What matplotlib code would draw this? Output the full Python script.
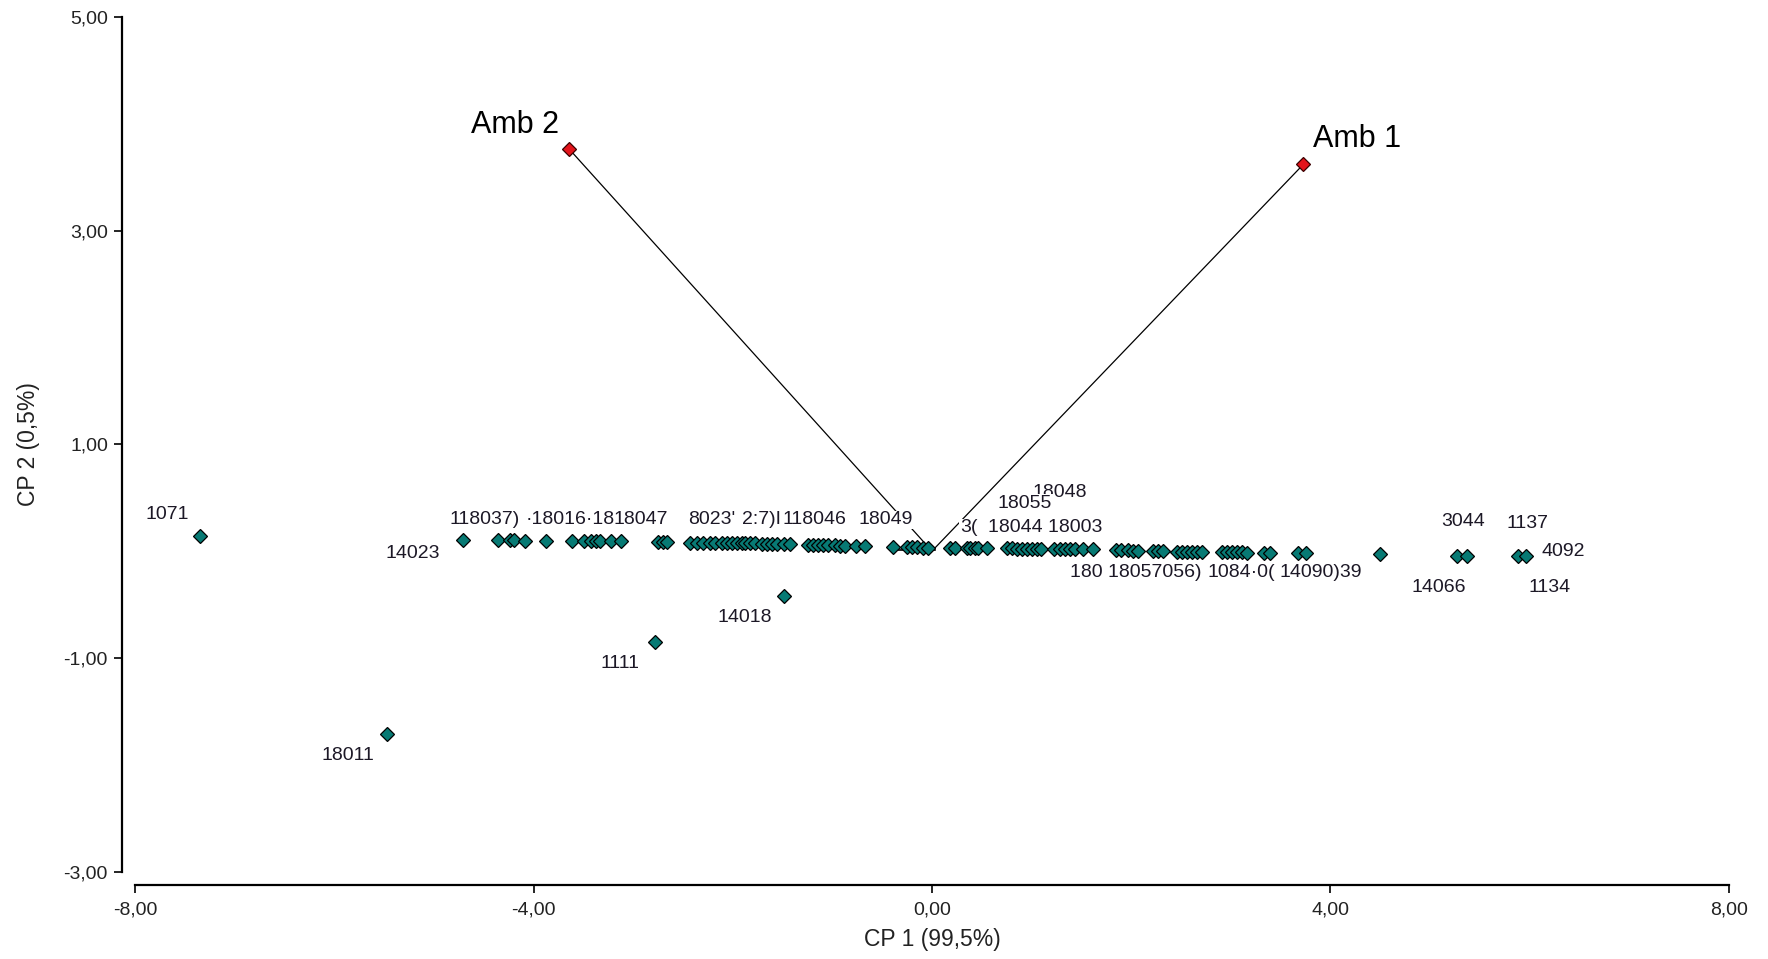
import matplotlib
matplotlib.use('Agg')
import matplotlib.pyplot as plt

plt.rcParams['font.family'] = ['Liberation Sans', 'DejaVu Sans']

# genotipos (CP1, CP2)
gen_x = [-7.35, -5.47, -2.78, -1.49,
         -4.71, -4.36, -4.24, -4.20, -4.09, -3.88, -3.61, -3.49, -3.42, -3.37, -3.33, -3.22, -3.12,
         -2.75, -2.70, -2.66,
         -2.43, -2.36, -2.30, -2.23, -2.18, -2.11, -2.06, -2.01, -1.96, -1.91, -1.88, -1.83, -1.78,
         -1.71, -1.66, -1.61, -1.56, -1.49, -1.43, -1.24, -1.19, -1.14, -1.09, -1.04, -0.97, -0.92,
         -0.87, -0.76, -0.67,
         -0.39, -0.25, -0.20, -0.15, -0.09, -0.04, 0.18, 0.23, 0.35, 0.38, 0.43, 0.46, 0.55,
         0.75, 0.80, 0.85, 0.90, 0.95, 1.00, 1.05, 1.10, 1.23, 1.29, 1.34, 1.39, 1.44, 1.52, 1.62,
         1.85, 1.90, 1.97, 2.02, 2.07, 2.22, 2.27, 2.32, 2.46, 2.51, 2.56, 2.61, 2.66, 2.71,
         2.91, 2.96, 3.01, 3.06, 3.11, 3.16, 3.33, 3.39, 3.68, 3.76,
         4.50, 5.27, 5.37, 5.89, 5.97]
gen_y = [0.14, -1.71, -0.85, -0.42,
         0.105, 0.10, 0.10, 0.10, 0.095, 0.095, 0.095, 0.09, 0.09, 0.09, 0.09, 0.09, 0.09,
         0.085, 0.085, 0.085,
         0.08, 0.08, 0.08, 0.078, 0.078, 0.076, 0.076, 0.075, 0.075, 0.074, 0.074, 0.072, 0.072,
         0.07, 0.07, 0.068, 0.066, 0.066, 0.064, 0.06, 0.058, 0.058, 0.056, 0.055, 0.053, 0.052,
         0.05, 0.046, 0.044,
         0.035, 0.035, 0.034, 0.034, 0.033, 0.032, 0.03, 0.03, 0.03, 0.03, 0.028, 0.028, 0.027,
         0.025, 0.025, 0.024, 0.024, 0.023, 0.023, 0.022, 0.022, 0.02, 0.02, 0.02, 0.019, 0.019, 0.018, 0.016,
         0.01, 0.008, 0.006, 0.005, 0.004, 0.0, 0.0, -0.002, -0.004, -0.005, -0.006, -0.006, -0.007, -0.008,
         -0.01, -0.01, -0.012, -0.012, -0.013, -0.014, -0.016, -0.017, -0.02, -0.02,
         -0.03, -0.045, -0.045, -0.05, -0.05]

# ambientes (vetores)
amb_names = ['Amb 1', 'Amb 2']
amb_x = [3.73, -3.64]
amb_y = [3.62, 3.76]
amb_lab_x = [3.83, -3.745]
amb_lab_y = [3.86, 3.99]

# rotulos como aparecem no grafico (sobrepostos no original)
lab_txt = ['1071', '14023', '18011', '1111', '14018',
           '118037)', '\u00b718016\u00b718', '18047', "8023'", '2:7)I', '118046', '18049',
           '3(', '18044 18003', '18048', '18055',
           '180 18057056)', '1084\u00b70(', '14090)39',
           '3044', '1137', '4092', '14066', '1134']
lab_x = [-7.90, -5.49, -6.13, -3.33, -2.15,
         -4.84, -4.08, -3.20, -2.45, -1.91, -1.50, -0.735,
         0.28, 0.56, 1.01, 0.66,
         1.386, 2.77, 3.49,
         5.117, 5.77, 6.122, 4.816, 5.987]
lab_y = [0.34, -0.018, -1.91, -1.056, -0.622,
         0.293, 0.293, 0.293, 0.293, 0.293, 0.293, 0.293,
         0.218, 0.218, 0.545, 0.443,
         -0.202, -0.202, -0.202,
         0.277, 0.262, -0.003, -0.345, -0.345]
# rotulos com fundo branco (cobrem linhas/rotulos anteriores)
lab_box = ['18049', '3(', '18055']

seg_x = [-0.42, 0.03]
seg_y = [0.012, 0.012]

xticks = [-8, -4, 0, 4, 8]
yticks = [-3, -1, 1, 3, 5]

fig = plt.figure(figsize=(17.68, 9.59), dpi=100)
ax = fig.add_axes([135.3 / 1768, 87.4 / 959, 1593.3 / 1768, 854.7 / 959])
ax.set_xlim(-8, 8)
ax.set_ylim(-3, 5)

for i in range(len(amb_names)):
    ax.plot([0, amb_x[i]], [0, amb_y[i]], color='black', lw=0.9, zorder=1)
ax.plot(seg_x, seg_y, color='black', lw=1.2, zorder=1)

for t, x, y in zip(lab_txt, lab_x, lab_y):
    kw = {}
    if t in lab_box:
        kw['bbox'] = dict(facecolor='white', edgecolor='none', pad=0.6)
    ax.text(x, y, t, fontsize=14, color='#1c1826', ha='left', va='center', zorder=2, **kw)

ax.plot(gen_x, gen_y, 'D', ms=6.8, mfc='#077a74', mec='black', mew=0.9, zorder=3, ls='none')
ax.plot(amb_x, amb_y, 'D', ms=6.8, mfc='#e3141b', mec='#3a0000', mew=0.9, zorder=3, ls='none')

ax.text(amb_lab_x[0], amb_lab_y[0], amb_names[0], fontsize=22, ha='left', va='center', zorder=4)
ax.text(amb_lab_x[1], amb_lab_y[1], amb_names[1], fontsize=22, ha='right', va='center', zorder=4)

for s in ['top', 'right']:
    ax.spines[s].set_visible(False)
ax.spines['left'].set_position(('outward', 9.7))
ax.spines['bottom'].set_position(('outward', 9.6))
ax.spines['left'].set_linewidth(1.6)
ax.spines['bottom'].set_linewidth(1.6)

ax.set_xticks(xticks)
ax.set_yticks(yticks)
ax.set_xticklabels([('%.2f' % v).replace('.', ',') for v in xticks])
ax.set_yticklabels([('%.2f' % v).replace('.', ',') for v in yticks])
ax.tick_params(direction='out', length=6, width=1.2, labelsize=14, labelcolor='#222222', pad=4)
ax.tick_params(axis='x', pad=6)

ax.set_xlabel('CP 1 (99,5%)', fontsize=16.5, color='#222222')
ax.set_ylabel('CP 2 (0,5%)', fontsize=16.5, color='#222222')
ax.xaxis.set_label_coords(0.5, -0.066)
ax.yaxis.set_label_coords(-0.060, 0.5)

fig.savefig('out.png', dpi=100, facecolor='white')
